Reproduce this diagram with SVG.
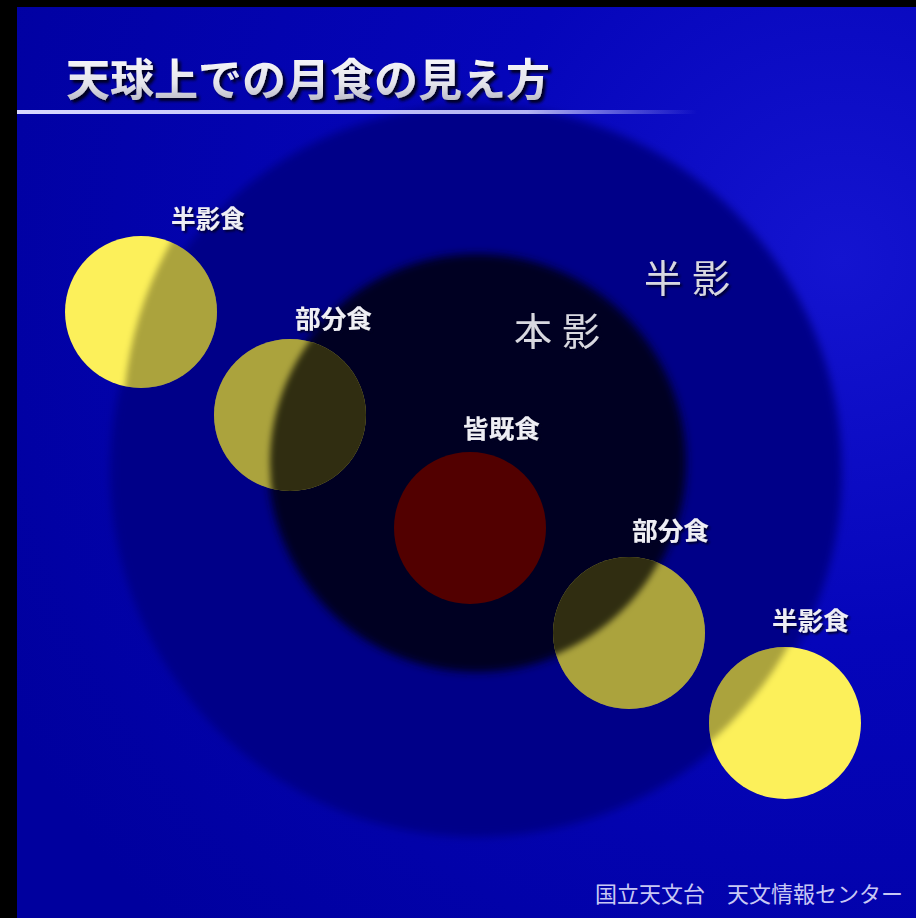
<svg xmlns="http://www.w3.org/2000/svg" xmlns:xlink="http://www.w3.org/1999/xlink" width="916" height="918" viewBox="0 0 916 918">
  <defs>
    <style>
      .jp { font-family: "Noto Sans CJK JP", "Noto Sans CJK SC", sans-serif; }
      .lbl { font-size: 25px; font-weight: bold; fill: #eeeef4; filter: url(#txtShadow); }
      .big { font-size: 38px; font-weight: normal; fill: #d8d8e0; letter-spacing: 10px; filter: url(#txtShadow); }
      .title { font-size: 44px; font-weight: bold; fill: url(#titleFill); filter: url(#titleShadow); }
      .credit { font-size: 22px; font-weight: normal; fill: #c8c8f4; }
      .moon { fill: #fcf05a; }
      .shadePen { fill: #000; fill-opacity: 0.32; }
      .shadeUmb { fill: #000; fill-opacity: 0.72; }
    </style>
    <radialGradient id="bg" gradientUnits="userSpaceOnUse" cx="840" cy="260" r="950">
      <stop offset="0" stop-color="#1414d0"/>
      <stop offset="0.4" stop-color="#0505ba"/>
      <stop offset="1" stop-color="#00009e"/>
    </radialGradient>
    <linearGradient id="rule" x1="0" y1="0" x2="1" y2="0">
      <stop offset="0" stop-color="#d8d8ff" stop-opacity="1"/>
      <stop offset="0.75" stop-color="#c8c8ff" stop-opacity="0.9"/>
      <stop offset="1" stop-color="#c8c8ff" stop-opacity="0"/>
    </linearGradient>
    <linearGradient id="titleFill" x1="0" y1="0" x2="0" y2="1">
      <stop offset="0" stop-color="#ffffff"/>
      <stop offset="0.6" stop-color="#e4e4ec"/>
      <stop offset="1" stop-color="#a8a8b8"/>
    </linearGradient>
    <filter id="soft" x="-20%" y="-20%" width="140%" height="140%">
      <feGaussianBlur stdDeviation="4.5"/>
    </filter>
    <filter id="edge" x="-20%" y="-20%" width="140%" height="140%">
      <feGaussianBlur stdDeviation="3"/>
    </filter>
    <filter id="txtShadow" x="-20%" y="-30%" width="140%" height="160%">
      <feDropShadow dx="2" dy="2" stdDeviation="1.2" flood-color="#000022" flood-opacity="0.9"/>
    </filter>
    <filter id="titleShadow" x="-10%" y="-30%" width="120%" height="160%">
      <feDropShadow dx="3" dy="3" stdDeviation="1.5" flood-color="#000018" flood-opacity="0.95"/>
    </filter>
    <clipPath id="clipM1"><circle cx="141" cy="312" r="76"/></clipPath>
    <clipPath id="clipM2"><circle cx="290" cy="415" r="76"/></clipPath>
    <clipPath id="clipM4"><circle cx="629" cy="633" r="76"/></clipPath>
    <clipPath id="clipM5"><circle cx="785" cy="723" r="76"/></clipPath>
  </defs>

  <!-- frame and sky -->
  <rect width="916" height="918" fill="#000"/>
  <rect x="17" y="7" width="899" height="911" fill="url(#bg)"/>

  <!-- Earth's shadow: penumbra and umbra -->
  <g id="penumbra">
    <circle cx="476" cy="471" r="366" fill="#000088" filter="url(#soft)"/>
    <text class="jp big" x="644" y="292">半影</text>
  </g>
  <g id="umbra">
    <circle cx="477" cy="463" r="209" fill="#010120" filter="url(#soft)"/>
    <text class="jp big" x="514" y="345">本影</text>
  </g>

  <!-- title -->
  <g id="title">
    <text class="jp title" x="66" y="96" textLength="484" lengthAdjust="spacingAndGlyphs">天球上での月食の見え方</text>
    <rect x="17" y="110" width="680" height="4" fill="url(#rule)"/>
  </g>

  <!-- moon positions along the path -->
  <g id="moon-penumbral-1">
    <circle class="moon" cx="141" cy="312" r="76"/>
    <g clip-path="url(#clipM1)">
      <circle class="shadePen" cx="495" cy="425" r="372" filter="url(#edge)"/>
    </g>
    <text class="jp lbl" x="171" y="228" textLength="74" lengthAdjust="spacingAndGlyphs">半影食</text>
  </g>

  <g id="moon-partial-1">
    <circle class="moon" cx="290" cy="415" r="76"/>
    <g clip-path="url(#clipM2)">
      <circle class="shadePen" cx="476" cy="471" r="366"/>
      <circle class="shadeUmb" cx="477" cy="463" r="207" filter="url(#edge)"/>
    </g>
    <text class="jp lbl" x="295" y="328" textLength="77" lengthAdjust="spacingAndGlyphs">部分食</text>
  </g>

  <g id="moon-total">
    <circle cx="470" cy="528" r="76" fill="#520000"/>
    <text class="jp lbl" x="463" y="438" textLength="77" lengthAdjust="spacingAndGlyphs">皆既食</text>
  </g>

  <g id="moon-partial-2">
    <circle class="moon" cx="629" cy="633" r="76"/>
    <g clip-path="url(#clipM4)">
      <circle class="shadePen" cx="476" cy="471" r="366"/>
      <circle class="shadeUmb" cx="477" cy="463" r="207" filter="url(#edge)"/>
    </g>
    <text class="jp lbl" x="632" y="540" textLength="77" lengthAdjust="spacingAndGlyphs">部分食</text>
  </g>

  <g id="moon-penumbral-2">
    <circle class="moon" cx="785" cy="723" r="76"/>
    <g clip-path="url(#clipM5)">
      <circle class="shadePen" cx="476" cy="471" r="358" filter="url(#edge)"/>
    </g>
    <text class="jp lbl" x="772" y="630" textLength="77" lengthAdjust="spacingAndGlyphs">半影食</text>
  </g>

  <!-- credit line -->
  <g id="credit">
    <text class="jp credit" x="595" y="902" textLength="308" lengthAdjust="spacingAndGlyphs">国立天文台　天文情報センター</text>
  </g>
</svg>
